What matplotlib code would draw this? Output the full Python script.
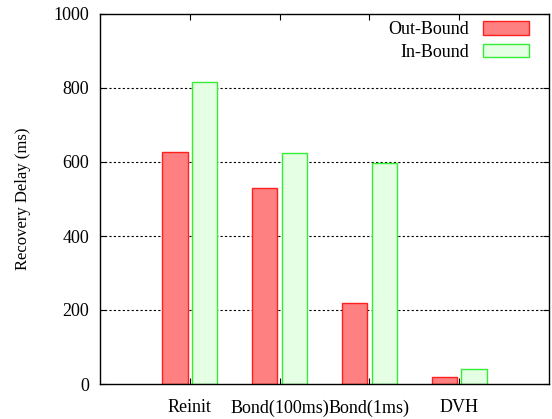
import numpy as np
import matplotlib.pyplot as plt

plt.rcParams['font.family'] = ['Liberation Serif', 'DejaVu Serif']

# recovery delay per scheme (ms)
schemes = ['Reinit', 'Bond(100ms)', 'Bond(1ms)', 'DVH']
out_bound = [628, 529, 218, 20]
in_bound = [815, 625, 596, 40]

x = np.arange(len(schemes))
w = 0.28

fig = plt.figure(figsize=(5.52, 4.19), dpi=100)
ax = fig.add_axes([100 / 552, 35 / 419, 449 / 552, 370 / 419])

# dotted grid behind the bars
for y in [200, 400, 600, 800]:
    ax.axhline(y, color='black', linestyle=(0, (2, 2)), linewidth=0.8, zorder=0)

ax.bar(x - 0.165, out_bound, w, color='#ff8080', edgecolor='#ff2020',
       linewidth=1, label='Out-Bound', zorder=2)
ax.bar(x + 0.165, in_bound, w, color='#e5ffe5', edgecolor='#33ee33',
       linewidth=1, label='In-Bound', zorder=2)

ax.set_xlim(-1, 4)
ax.set_ylim(0, 1000)
ax.set_xticks(x)
ax.set_xticklabels(schemes)
ax.set_yticks([0, 200, 400, 600, 800, 1000])
ax.tick_params(direction='in', length=4, width=0.8, labelsize=13,
               top=True, right=True, pad=8)
ax.tick_params(axis='x', pad=11)
for s in ax.spines.values():
    s.set_linewidth(1)
ax.set_ylabel('Recovery Delay (ms)', fontsize=12, labelpad=16)

leg = ax.legend(loc='upper right', bbox_to_anchor=(0.972, 1.0),
                frameon=False, markerfirst=False, borderaxespad=0,
                fontsize=13, handlelength=2.55, handleheight=0.75,
                labelspacing=0.3, handletextpad=0.8)

fig.savefig('out.png', dpi=100)
